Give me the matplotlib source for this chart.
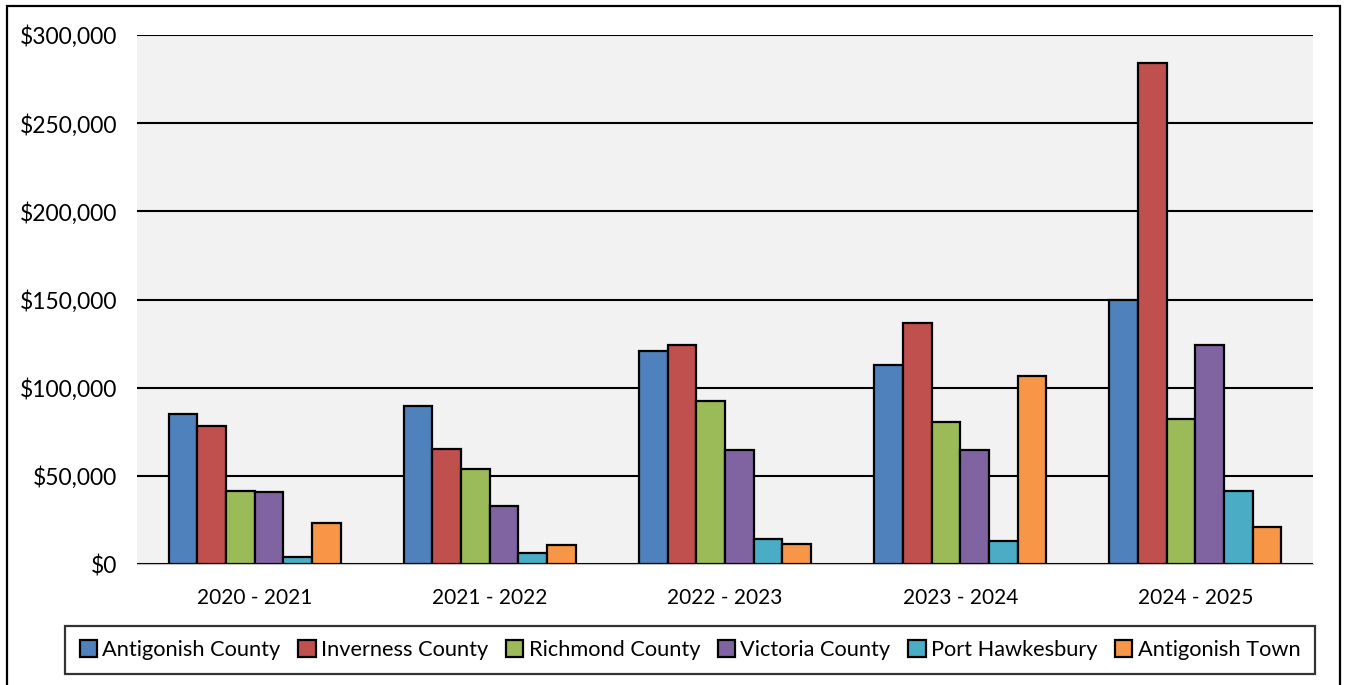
import matplotlib.pyplot as plt
import numpy as np
from matplotlib.patches import Rectangle
from matplotlib.ticker import FuncFormatter

plt.rcParams["font.family"] = ["Lato", "DejaVu Sans"]

years = ["2020 - 2021", "2021 - 2022", "2022 - 2023", "2023 - 2024", "2024 - 2025"]
antigonish_county = [85300, 89800, 120800, 112700, 150000]
inverness_county = [78400, 65000, 124200, 136900, 284200]
richmond_county = [41600, 54000, 92600, 80700, 82000]
victoria_county = [41000, 32900, 64600, 64500, 124200]
port_hawkesbury = [4100, 6200, 14200, 13200, 41400]
antigonish_town = [23400, 10800, 11500, 106400, 20900]

series = [
    ("Antigonish County", antigonish_county, "#4F81BD"),
    ("Inverness County", inverness_county, "#C0504D"),
    ("Richmond County", richmond_county, "#9BBB59"),
    ("Victoria County", victoria_county, "#8064A2"),
    ("Port Hawkesbury", port_hawkesbury, "#4BACC6"),
    ("Antigonish Town", antigonish_town, "#F79646"),
]

fig = plt.figure(figsize=(13.47, 6.85), dpi=100)
ax = fig.add_axes([137 / 1347, 1 - 564 / 685, (1313 - 137) / 1347, (564 - 35) / 685])
ax.set_facecolor("#F2F2F2")

x = np.arange(len(years))
w = 0.122
for i, (name, vals, col) in enumerate(series):
    ax.bar(x + (i - 2.5) * w, vals, w, color=col, edgecolor="black",
           linewidth=1.6, label=name, zorder=3)

ax.set_ylim(0, 300000)
ax.set_xlim(-0.5, len(years) - 0.5)
ax.set_yticks(np.arange(0, 300001, 50000))
ax.yaxis.set_major_formatter(FuncFormatter(lambda v, p: f"${v:,.0f}"))
ax.set_xticks(x)
ax.set_xticklabels(years)
ax.tick_params(axis="x", length=0, labelsize=15, pad=17)
ax.tick_params(axis="y", length=0, labelsize=16.5, pad=14)
ax.grid(axis="y", color="black", linewidth=1.5, zorder=1)
for s in ["top", "left", "right"]:
    ax.spines[s].set_visible(False)
ax.spines["bottom"].set_color("#BFBFBF")
ax.spines["bottom"].set_zorder(4)

leg = fig.legend(loc="center", bbox_to_anchor=(690 / 1347, 1 - 650 / 685), ncol=6,
                 fontsize=15.7, frameon=True, fancybox=False, edgecolor="black",
                 handlelength=0.8, handleheight=0.8, handletextpad=0.25,
                 columnspacing=0.8, borderpad=0.65, borderaxespad=0)
leg.get_frame().set_linewidth(1.6)

fig.patches.append(Rectangle((7 / 1347, -0.05), (1340 - 7) / 1347, 1 - 6 / 685 + 0.05,
                             transform=fig.transFigure, fill=False,
                             edgecolor="black", linewidth=1.6))

fig.savefig("out.png", dpi=100)
